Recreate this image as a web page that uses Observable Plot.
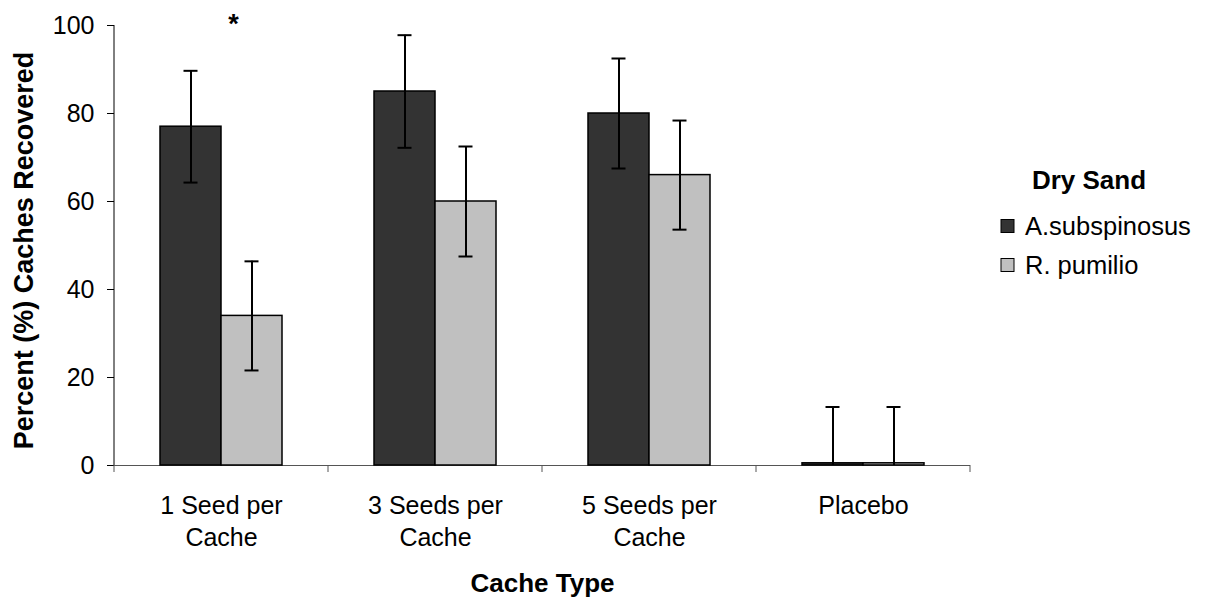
<!DOCTYPE html>
<html>
<head>
<meta charset="utf-8">
<script src="https://cdn.jsdelivr.net/npm/d3@7"></script>
<script src="https://cdn.jsdelivr.net/npm/@observablehq/plot@0.6"></script>
<style>
  body { margin: 0; background: #fff; }
  svg { font-family: "Liberation Sans", Arial, sans-serif; }
</style>
</head>
<body>
<div id="chart"></div>
<script>
// ---- data ----
const categories = ["1 Seed per\nCache", "3 Seeds per\nCache", "5 Seeds per\nCache", "Placebo"];
const seriesNames = ["A.subspinosus", "R. pumilio"];
const aSubspinosus = [77, 85, 80, 0.5];
const rPumilio = [34, 60, 66, 0.5];
const aSubspinosusErr = [12.7, 12.8, 12.5, 12.8];
const rPumilioErr = [12.4, 12.5, 12.4, 12.8];
const significance = ["*", "", "", ""];
const yTicks = [0, 20, 40, 60, 80, 100];
const legendTitle = "Dry Sand";
const xTitle = "Cache Type";
const yTitle = "Percent (%) Caches Recovered";
const colors = ["#333333", "#c0c0c0"];

const values = [aSubspinosus, rPumilio];
const errors = [aSubspinosusErr, rPumilioErr];
const rows = categories.flatMap((c, i) =>
  seriesNames.map((s, j) => ({cat: c, series: s, value: values[j][i], err: errors[j][i]}))
);
const sig = categories.map((c, i) => ({cat: c, s: significance[i]})).filter(d => d.s);

const font = "'Liberation Sans', Arial, sans-serif";

const plot = Plot.plot({
  width: 1208,
  height: 600,
  marginLeft: 113,
  marginRight: 238,
  marginTop: 25,
  marginBottom: 135,
  style: {fontFamily: font, fontSize: "25px", color: "#000", background: "#fff"},
  fx: {domain: categories, padding: 0, axis: null, label: null},
  x: {domain: seriesNames, paddingInner: 0, paddingOuter: 0.742, axis: null},
  y: {domain: [0, 100], axis: null},
  color: {domain: seriesNames, range: colors},
  marks: [
    Plot.ruleY([0], {stroke: "#555", strokeWidth: 1}),
    Plot.barY(rows, {fx: "cat", x: "series", y: "value", fill: "series", stroke: "#000", strokeWidth: 1.5}),
    Plot.ruleX(rows, {fx: "cat", x: "series", y1: d => Math.max(0, d.value - d.err), y2: d => d.value + d.err, stroke: "#000", strokeWidth: 2}),
    Plot.tickY(rows, {fx: "cat", x: "series", y: d => d.value + d.err, stroke: "#000", strokeWidth: 2, insetLeft: 23.5, insetRight: 23.5}),
    Plot.tickY(rows.filter(d => d.value - d.err > 0), {fx: "cat", x: "series", y: d => d.value - d.err, stroke: "#000", strokeWidth: 2, insetLeft: 23.5, insetRight: 23.5}),
    Plot.axisY({ticks: yTicks, tickSize: 7, tickPadding: 13, label: null, fontSize: 25, tickFormat: d => String(d)}),
    Plot.text(categories, {fx: d => d, text: d => d, frameAnchor: "bottom", textAnchor: "middle", lineAnchor: "top", dy: 25, lineHeight: 1.3, fontSize: 25}),
    Plot.text(sig, {fx: "cat", text: "s", frameAnchor: "top", textAnchor: "middle", dx: 12, dy: -12, fontSize: 27, fontWeight: "bold"}),
    Plot.text([yTitle], {fx: () => categories[0], text: d => d, frameAnchor: "left", textAnchor: "middle", rotate: -90, dx: -90, dy: 5, fontSize: 27, fontWeight: "bold"}),
    Plot.text([xTitle], {fx: () => categories[1], text: d => d, frameAnchor: "bottom-right", textAnchor: "middle", dy: 126, fontSize: 26, fontWeight: "bold"})
  ]
});

document.getElementById("chart").appendChild(plot);

// ---- axis lines and category boundary ticks from Plot's scales ----
const svg = d3.select(plot.tagName.toLowerCase() === "svg" ? plot : plot.querySelector("svg"));
const fx = plot.scale("fx");
const y = plot.scale("y");
const y0 = y.apply(0);
const boundaries = categories.map(c => fx.apply(c)).concat([fx.apply(categories[categories.length - 1]) + fx.bandwidth]);
const g = svg.append("g");
g.append("line")
  .attr("x1", boundaries[0]).attr("x2", boundaries[0])
  .attr("y1", y.apply(100)).attr("y2", y0)
  .attr("stroke", "#000").attr("stroke-width", 1);
g.selectAll("line.xt").data(boundaries).join("line")
  .attr("class", "xt")
  .attr("x1", d => d).attr("x2", d => d)
  .attr("y1", y0).attr("y2", y0 + 7)
  .attr("stroke", "#555").attr("stroke-width", 1);

// ---- legend ----
const color = plot.scale("color");
const lg = svg.append("g").attr("font-family", font).attr("text-anchor", "start");
lg.append("text")
  .attr("x", 1089).attr("y", 180).attr("dy", "0.35em")
  .attr("text-anchor", "middle").attr("font-size", 26).attr("font-weight", "bold")
  .text(legendTitle);
seriesNames.forEach((s, i) => {
  const cy = 226 + i * 39;
  lg.append("rect")
    .attr("x", 1001).attr("y", cy - 6.5).attr("width", 13).attr("height", 13)
    .attr("fill", color.apply(s)).attr("stroke", "#000").attr("stroke-width", 1);
  lg.append("text")
    .attr("x", 1025).attr("y", cy).attr("dy", "0.35em")
    .attr("text-anchor", "start")
    .attr("font-size", 25.5)
    .text(s);
});
</script>
</body>
</html>
